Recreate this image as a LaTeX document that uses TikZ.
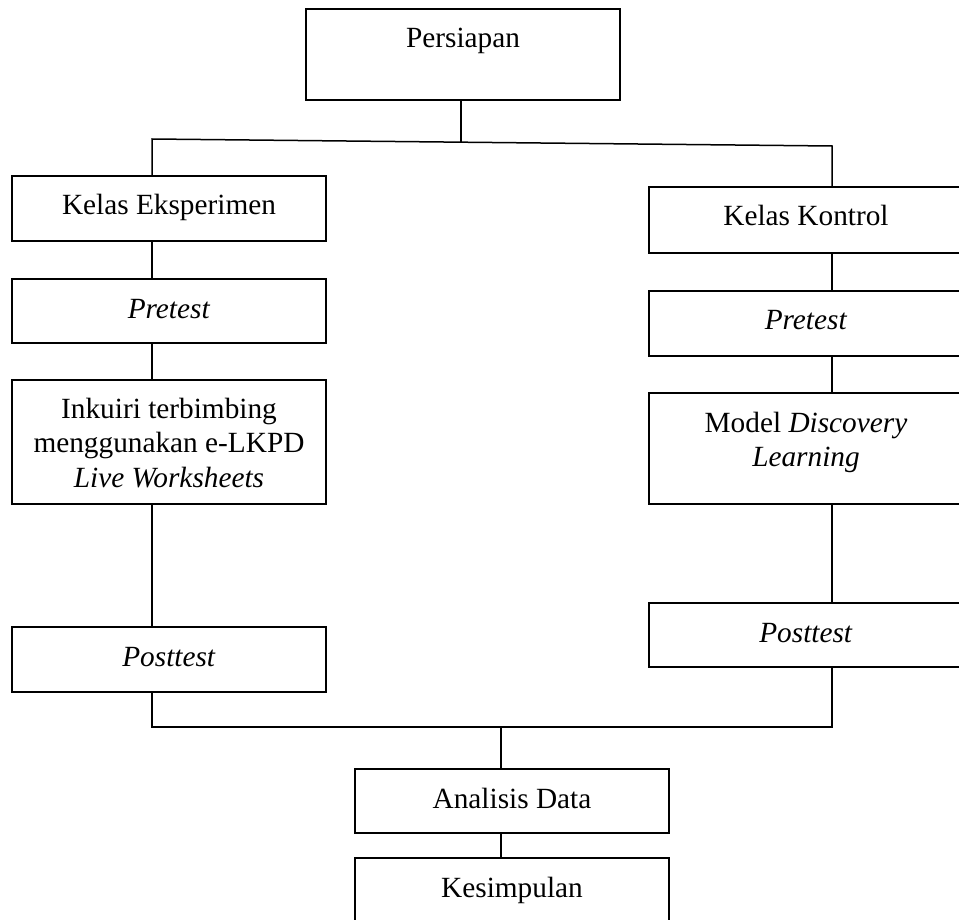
\documentclass[tikz,border=0pt]{standalone}
\usepackage{fontspec}
\setmainfont{Liberation Serif}
\begin{document}
\begin{tikzpicture}[x=1pt,y=-1pt,
  box/.style={draw=black, line width=1.5pt, rectangle, minimum width=314pt, inner sep=0pt, outer sep=0pt},
  txt/.style={anchor=north, inner sep=0pt, outer sep=0pt, align=center, font=\fontsize{29.3}{34.5}\selectfont},
  conn/.style={draw=black, line width=1.5pt, line cap=rect}]
\useasboundingbox (0,0) rectangle (959,920);
% boxes
\node[box, minimum height=91pt] (bPers) at (463,54.5) {};
\node[box, minimum height=65pt] (bKE) at (169,208.5) {};
\node[box, minimum height=64pt] (bPreL) at (169,311) {};
\node[box, minimum height=124pt] (bInk) at (169,442) {};
\node[box, minimum height=65pt] (bPostL) at (169,659.5) {};
\node[box, minimum height=66pt] (bKK) at (806,220) {};
\node[box, minimum height=65pt] (bPreR) at (806,323.5) {};
\node[box, minimum height=111pt] (bMod) at (806,448.5) {};
\node[box, minimum height=64pt] (bPostR) at (806,635) {};
\node[box, minimum height=64pt] (bAna) at (512,801) {};
\node[box, minimum height=64pt] (bKes) at (512,890) {};
% texts
\node[txt] (tPers) at ([yshift=-14.85pt]bPers.north) {\strut Persiapan};
\node[txt] (tKE) at ([yshift=-14.85pt]bKE.north) {\strut Kelas Eksperimen};
\node[txt] (tPreL) at ([yshift=-14.85pt]bPreL.north) {\strut\textit{Pretest}};
\node[txt] (tInk) at ([yshift=-14pt]bInk.north) {\strut Inkuiri terbimbing\\\strut menggunakan e-LKPD\\\strut\textit{Live Worksheets}};
\node[txt] (tPostL) at ([yshift=-14.85pt]bPostL.north) {\strut\textit{Posttest}};
\node[txt] (tKK) at ([yshift=-14.85pt]bKK.north) {\strut Kelas Kontrol};
\node[txt] (tPreR) at ([yshift=-14.85pt]bPreR.north) {\strut\textit{Pretest}};
\node[txt] (tMod) at ([yshift=-14.85pt]bMod.north) {\strut Model \textit{Discovery}\\\strut\textit{Learning}};
\node[txt] (tPostR) at ([yshift=-14.85pt]bPostR.north) {\strut\textit{Posttest}};
\node[txt] (tAna) at ([yshift=-14.85pt]bAna.north) {\strut Analisis Data};
\node[txt] (tKes) at ([yshift=-14.85pt]bKes.north) {\strut Kesimpulan};
% junction coordinates
\coordinate (xL) at (152,0);
\coordinate (xR) at (832,0);
\coordinate (jTopL) at (152,139);
\coordinate (jTopR) at (832,146);
\coordinate (jTopM) at (461,141.2);
\coordinate (jBotL) at (152,727);
\coordinate (jBotR) at (832,727);
\coordinate (jBotM) at (501,727);
% connectors
\draw[conn] (jTopM |- bPers.south) -- (jTopM);
\draw[conn] (jTopL |- bKE.north) -- (jTopL) -- (jTopR) -- (jTopR |- bKK.north);
\draw[conn] (xL |- bKE.south) -- (xL |- bPreL.north);
\draw[conn] (xL |- bPreL.south) -- (xL |- bInk.north);
\draw[conn] (xL |- bInk.south) -- (xL |- bPostL.north);
\draw[conn] (xR |- bKK.south) -- (xR |- bPreR.north);
\draw[conn] (xR |- bPreR.south) -- (xR |- bMod.north);
\draw[conn] (xR |- bMod.south) -- (xR |- bPostR.north);
\draw[conn] (jBotL |- bPostL.south) -- (jBotL) -- (jBotR) -- (jBotR |- bPostR.south);
\draw[conn] (jBotM) -- (jBotM |- bAna.north);
\draw[conn] (jBotM |- bAna.south) -- (jBotM |- bKes.north);
\end{tikzpicture}
\end{document}
